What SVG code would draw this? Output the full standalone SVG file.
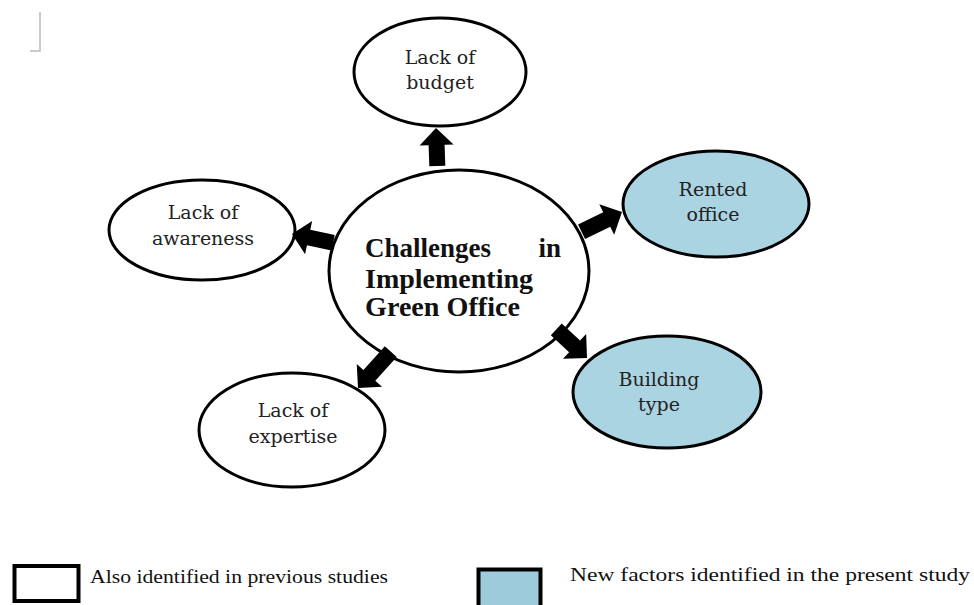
<svg xmlns="http://www.w3.org/2000/svg" width="974" height="605" viewBox="0 0 974 605">
<style>
.node{fill:#fff;stroke:#000;stroke-width:3}
.blue{fill:#abd4e2}
.t{font-family:"DejaVu Serif","Liberation Serif",serif;font-size:19px;fill:#222;text-anchor:middle}
.c{font-family:"Liberation Serif","Times New Roman",serif;font-size:27px;font-weight:bold;fill:#111}
.lg{font-family:"Liberation Serif","Times New Roman",serif;font-size:19px;fill:#111}
.arr{fill:#000}
</style>
<rect width="974" height="605" fill="#fff"/>
<path d="M40,12 V51 H30" fill="none" stroke="#bbb" stroke-width="1.5"/>

<g id="center">
<ellipse class="node" cx="459" cy="271" rx="130" ry="101" stroke-width="3.5"/>
<text class="c" x="365" y="257">Challenges</text>
<text class="c" x="561" y="257" text-anchor="end">in</text>
<text class="c" x="365" y="288" textLength="168" lengthAdjust="spacingAndGlyphs">Implementing</text>
<text class="c" x="365" y="316" textLength="155" lengthAdjust="spacingAndGlyphs">Green Office</text>
</g>

<g id="budget">
<ellipse class="node" cx="440" cy="72" rx="86" ry="54"/>
<text class="t" x="440" y="64">Lack of</text>
<text class="t" x="440" y="89">budget</text>
</g>

<g id="rented">
<ellipse class="node blue" cx="716" cy="204" rx="93" ry="53"/>
<text class="t" x="713" y="196">Rented</text>
<text class="t" x="713" y="221">office</text>
</g>

<g id="building">
<ellipse class="node blue" cx="667" cy="392" rx="94" ry="56"/>
<text class="t" x="659" y="386">Building</text>
<text class="t" x="659" y="411">type</text>
</g>

<g id="expertise">
<ellipse class="node" cx="292" cy="430" rx="93" ry="57"/>
<text class="t" x="293" y="417">Lack of</text>
<text class="t" x="293" y="443">expertise</text>
</g>

<g id="awareness">
<ellipse class="node" cx="202" cy="230" rx="93" ry="50"/>
<text class="t" x="203" y="219">Lack of</text>
<text class="t" x="203" y="245">awareness</text>
</g>

<g id="connectors">
<path class="arr" transform="translate(436,128) rotate(-92)" d="M0,0 L-17,-17 L-17,-8 L-38,-8 L-38,8 L-17,8 L-17,17 Z"/>
<path class="arr" transform="translate(622,212) rotate(-26)" d="M0,0 L-17,-17 L-17,-8 L-45,-8 L-45,8 L-17,8 L-17,17 Z"/>
<path class="arr" transform="translate(587,358) rotate(43)" d="M0,0 L-17,-17 L-17,-8 L-42,-8 L-42,8 L-17,8 L-17,17 Z"/>
<path class="arr" transform="translate(358,388) rotate(132)" d="M0,0 L-17,-17 L-17,-8 L-49,-8 L-49,8 L-17,8 L-17,17 Z"/>
<path class="arr" transform="translate(292,234) rotate(192)" d="M0,0 L-17,-17 L-17,-8 L-42,-8 L-42,8 L-17,8 L-17,17 Z"/>
</g>

<g id="legend">
<rect x="14.5" y="566" width="64" height="35" fill="#fff" stroke="#000" stroke-width="4"/>
<text class="lg" x="90" y="583" textLength="298" lengthAdjust="spacingAndGlyphs">Also identified in previous studies</text>
<rect x="478.5" y="569.5" width="62" height="45" fill="#9ecbdc" stroke="#000" stroke-width="4"/>
<text class="lg" x="570" y="581" textLength="400" lengthAdjust="spacingAndGlyphs">New factors identified in the present study</text>
</g>
</svg>
